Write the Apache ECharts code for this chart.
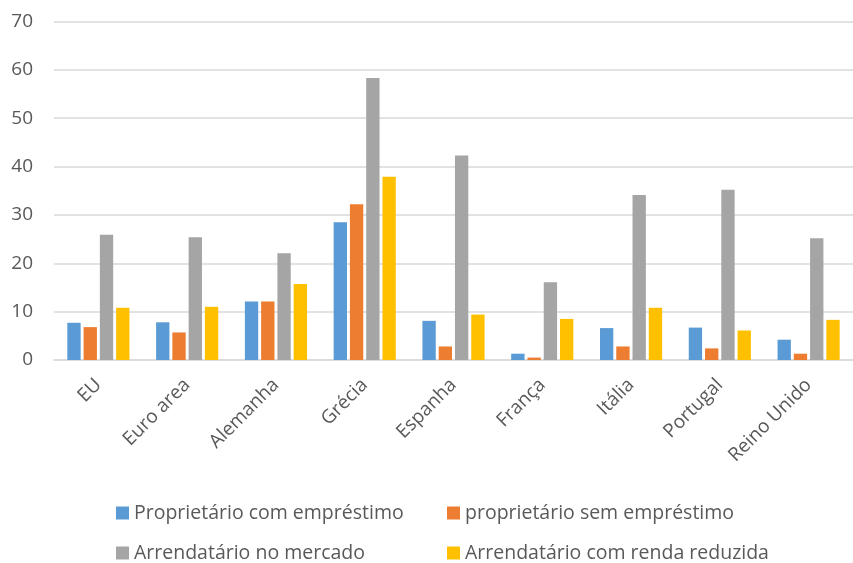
<!DOCTYPE html>
<html>
<head>
<meta charset="utf-8">
<script src="https://cdn.jsdelivr.net/npm/echarts@6/dist/echarts.min.js"></script>
<style>
html,body{margin:0;padding:0;background:#fff;}
#chart{width:853px;height:563px;}
</style>
</head>
<body>
<div id="chart"></div>
<script>
const categories = ['EU', 'Euro area', 'Alemanha', 'Grécia', 'Espanha', 'França', 'Itália', 'Portugal', 'Reino Unido'];
const seriesNames = ['Proprietário com empréstimo', 'proprietário sem empréstimo', 'Arrendatário no mercado', 'Arrendatário com renda reduzida'];
const propComEmprestimo = [7.7, 7.8, 12.1, 28.5, 8.1, 1.3, 6.6, 6.7, 4.2];
const propSemEmprestimo = [6.8, 5.7, 12.1, 32.2, 2.8, 0.5, 2.8, 2.4, 1.3];
const arrendMercado = [25.9, 25.4, 22.1, 58.3, 42.3, 16.1, 34.1, 35.2, 25.2];
const arrendRendaReduzida = [10.8, 11.0, 15.7, 37.9, 9.4, 8.5, 10.8, 6.1, 8.3];
const yTicks = [0, 10, 20, 30, 40, 50, 60, 70];

const colors = ['#5B9BD5', '#ED7D31', '#A5A5A5', '#FFC000'];
const values = [propComEmprestimo, propSemEmprestimo, arrendMercado, arrendRendaReduzida];
const fontFam = '"Open Sans", "Noto Sans", sans-serif';
const textColor = '#595959';

const chart = echarts.init(document.getElementById('chart'), null, {renderer: 'canvas'});
const legendText = {color: textColor, fontSize: 19.5, fontFamily: fontFam};
const legendPos = [[116, 503], [447, 503], [116, 543], [447, 543]];
chart.setOption({
  animation: false,
  color: colors,
  grid: {left: 54, top: 21.5, width: 805, height: 338.5, containLabel: false},
  legend: seriesNames.map((n, i) => ({
    data: [n], left: legendPos[i][0], top: legendPos[i][1], padding: 0,
    itemWidth: 13, itemHeight: 13, icon: 'rect', textStyle: legendText
  })),
  xAxis: {
    type: 'category',
    data: categories,
    axisLine: {show: true, lineStyle: {color: '#d9d9d9', width: 1.5}},
    axisTick: {show: false},
    axisLabel: {rotate: 45, margin: 22, color: textColor, fontSize: 19, fontFamily: fontFam, interval: 0}
  },
  yAxis: {
    type: 'value',
    min: yTicks[0],
    max: yTicks[yTicks.length - 1],
    interval: 10,
    axisLine: {show: false},
    axisTick: {show: false},
    splitLine: {lineStyle: {color: '#d9d9d9', width: 1.5}},
    axisLabel: {margin: 21, color: textColor, fontSize: 19, fontFamily: fontFam}
  },
  series: seriesNames.map((name, i) => ({
    name: name,
    type: 'bar',
    data: values[i],
    barGap: '22%',
    barCategoryGap: '30%',
    itemStyle: {color: colors[i]}
  }))
});
</script>
</body>
</html>
